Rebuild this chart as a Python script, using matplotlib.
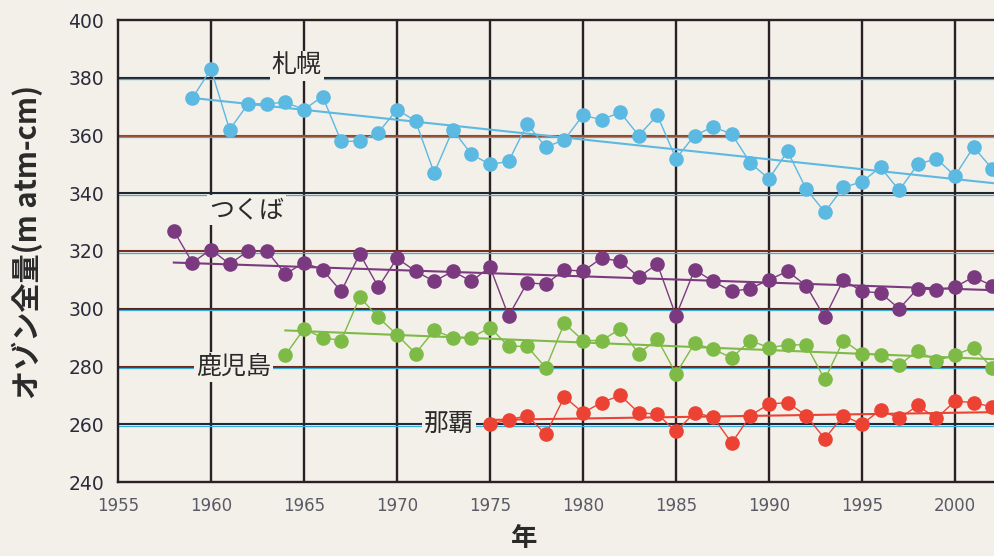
import matplotlib
matplotlib.use("Agg")
import matplotlib.pyplot as plt
import numpy as np

plt.rcParams['font.family'] = ['Noto Sans CJK JP', 'DejaVu Sans']

# --- data ---
sapporo_years = list(range(1959, 2003))
sapporo = [373, 383, 362, 371, 371, 371.5, 369, 373.5, 358, 358,
           361, 369, 365, 347, 362, 353.5, 350, 351, 364, 356,
           358.5, 367, 365.5, 368, 360, 367, 352, 360, 363, 360.5,
           350.5, 345, 354.5, 341.5, 333.5, 342, 344, 349, 341, 350,
           352, 346, 356, 348.5]

tsukuba_years = list(range(1958, 2003))
tsukuba = [327, 316, 320.5, 315.5, 320, 320, 312, 316, 313.5, 306,
           319, 307.5, 317.5, 313, 309.5, 313, 309.5, 314.5, 297.5, 309,
           308.5, 313.5, 313, 317.5, 316.5, 311, 315.5, 297.5, 313.5, 309.5,
           306, 307, 310, 313, 308, 297, 310, 306, 305.5, 300,
           307, 306.5, 307.5, 311, 308]

kagoshima_years = list(range(1964, 2003))
kagoshima = [284, 293, 290, 289, 304, 297, 291, 284.5, 292.5, 290,
             290, 293.5, 287, 287, 279.5, 295, 289, 289, 293, 284.5,
             289.5, 277.5, 288, 286, 283, 289, 286.5, 287.5, 287.5, 275.5,
             289, 284.5, 284, 280.5, 285.5, 282, 284, 286.5, 279.5]

naha_years = list(range(1975, 2003))
naha = [260, 261.5, 263, 256.5, 269.5, 264, 267.5, 270, 264, 263.5,
        257.5, 264, 262.5, 253.5, 263, 267, 267.5, 263, 255, 263,
        260, 265, 262, 266.5, 262, 268, 267.5, 266]

# trend lines: value at first year and at 2002
sapporo_trend = [373.0, 343.4]
tsukuba_trend = [316.0, 306.4]
kagoshima_trend = [292.5, 282.5]
naha_trend = [261.5, 264.2]

station_names = ['札幌', 'つくば', '鹿児島', '那覇']

bg = '#f3efe9'
dark = '#2a2124'

fig = plt.figure(figsize=(9.94, 5.56), dpi=100, facecolor=bg)
ax = fig.add_axes([118 / 994, 1 - 482 / 556, 1 - 118 / 994, (482 - 20) / 556])
ax.set_facecolor(bg)

ax.set_xlim(1955, 2002.1)
ax.set_ylim(240, 400)

# grid like the printed one (dark lines with a slight colour offset)
for x in range(1960, 2001, 5):
    ax.axvline(x, color=dark, lw=1.7, zorder=1)
hcols = {260: '#1f2a3a', 280: '#6b2a1c', 300: '#5a2418', 320: '#7a3020',
         340: '#22242e', 360: '#a4441e', 380: '#22242e'}
for y, c in hcols.items():
    ax.axhline(y, color=c, lw=1.5, zorder=1)
    ax.axhline(y - 0.55, color='#3aaedc', lw=0.9, zorder=1)

for s in ['left', 'bottom', 'top']:
    ax.spines[s].set_color(dark)
    ax.spines[s].set_linewidth(1.7)
ax.spines['right'].set_visible(False)

series = [
    (sapporo_years, sapporo, sapporo_trend, '#5cb9e2'),
    (tsukuba_years, tsukuba, tsukuba_trend, '#7b3a7f'),
    (kagoshima_years, kagoshima, kagoshima_trend, '#7dbb46'),
    (naha_years, naha, naha_trend, '#ec4234'),
]
for yrs, vals, tr, col in series:
    ax.plot([yrs[0], 2002.2], tr, color=col, lw=1.5, zorder=2)
    ax.plot(yrs, vals, '-o', color=col, lw=1.0, ms=9.5, zorder=3)

label_pos = [(1964.6, 384.2), (1961.9, 334.2), (1961.2, 280.0), (1972.8, 260.0)]
for name, (lx, ly) in zip(station_names, label_pos):
    ax.text(lx, ly, name, fontsize=18, ha='center', va='center', color='#2a2a2a',
            zorder=4, bbox=dict(fc=bg, ec='none', pad=1.5))

ax.set_xticks(range(1955, 2001, 5))
ax.set_yticks(range(240, 401, 20))
ax.tick_params(axis='both', length=0)
ax.tick_params(axis='y', pad=10, labelsize=13.5, labelcolor='#2b2b3b')
ax.tick_params(axis='x', pad=11, labelsize=12, labelcolor='#5a5a66')
for t in ax.get_xticklabels() + ax.get_yticklabels():
    t.set_family('DejaVu Sans')

fig.text(0.028, 0.565, 'オゾン全量(m atm-cm)', rotation=90, fontsize=21,
         fontweight='bold', ha='center', va='center', color='#2a2a2a')
fig.text(0.527, 0.032, '年', fontsize=19, fontweight='bold',
         ha='center', va='center', color='#2a2a2a')

fig.savefig('out.png', dpi=100, facecolor=bg)
